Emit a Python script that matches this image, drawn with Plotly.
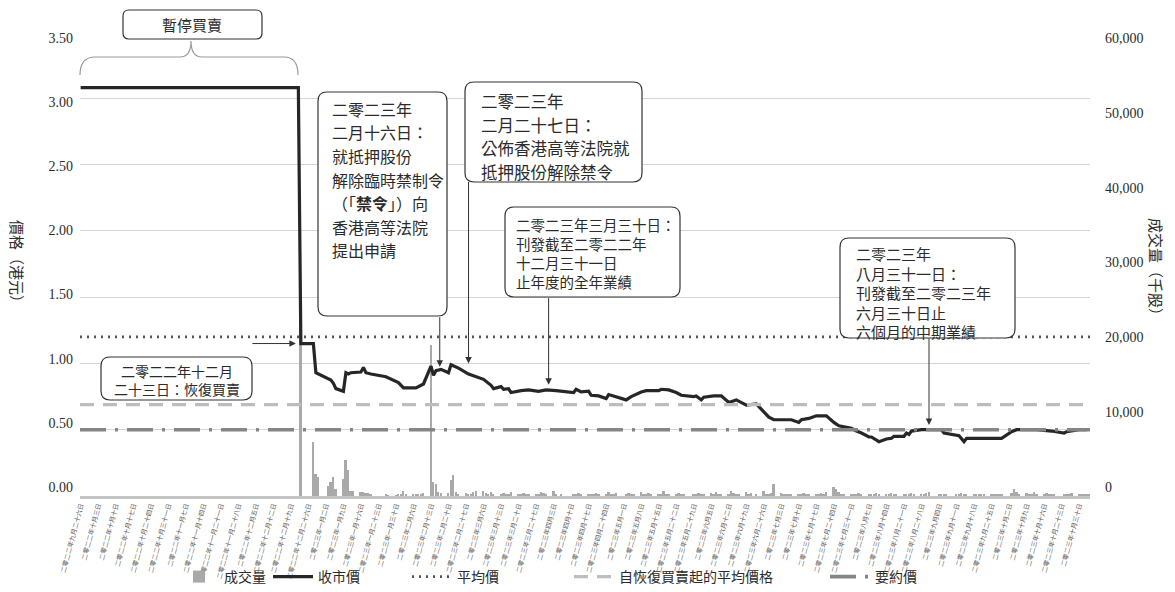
import plotly.graph_objects as go
import pandas as pd

# ---------------- data ----------------
avg_price = 1.20            # 平均價
avg_since_resume = 0.69     # 自恢復買賣起的平均價格
offer_price = 0.50          # 要約價

price_dates = [
    "2022-09-26", "2022-12-22", "2022-12-23", "2022-12-28", "2022-12-29", "2023-01-04", "2023-01-05",
    "2023-01-06", "2023-01-09", "2023-01-10", "2023-01-11", "2023-01-12", "2023-01-16", "2023-01-17",
    "2023-01-18", "2023-01-20", "2023-01-26", "2023-01-31", "2023-02-02", "2023-02-07", "2023-02-10",
    "2023-02-13", "2023-02-14", "2023-02-15", "2023-02-17", "2023-02-20", "2023-02-21", "2023-02-24",
    "2023-02-28", "2023-03-03", "2023-03-06", "2023-03-09", "2023-03-10", "2023-03-13", "2023-03-14",
    "2023-03-16", "2023-03-17", "2023-03-21", "2023-03-24", "2023-03-28", "2023-03-31", "2023-04-04",
    "2023-04-11", "2023-04-12", "2023-04-14", "2023-04-17", "2023-04-18", "2023-04-21", "2023-04-24",
    "2023-04-25", "2023-04-28", "2023-05-02", "2023-05-04", "2023-05-08", "2023-05-10", "2023-05-15",
    "2023-05-16", "2023-05-19", "2023-05-22", "2023-05-24", "2023-05-29", "2023-05-30", "2023-06-01",
    "2023-06-02", "2023-06-06", "2023-06-09", "2023-06-12", "2023-06-13", "2023-06-15", "2023-06-19",
    "2023-06-23", "2023-06-26", "2023-06-28", "2023-06-30", "2023-07-07", "2023-07-10", "2023-07-11",
    "2023-07-14", "2023-07-17", "2023-07-21", "2023-07-24", "2023-07-26", "2023-07-31", "2023-08-02",
    "2023-08-04", "2023-08-07", "2023-08-08", "2023-08-11", "2023-08-14", "2023-08-16", "2023-08-17",
    "2023-08-21", "2023-08-22", "2023-08-23", "2023-08-24", "2023-08-28", "2023-08-31", "2023-09-05",
    "2023-09-06", "2023-09-11", "2023-09-12", "2023-09-14", "2023-09-15", "2023-09-29", "2023-10-03",
    "2023-10-05", "2023-10-13", "2023-10-19", "2023-10-24", "2023-10-25", "2023-10-30", "2023-11-02",
]
price_values = [
    3.08, 3.08, 1.15, 1.15, 0.93, 0.875, 0.85,
    0.81, 0.79, 0.93, 0.92, 0.93, 0.935, 0.97,
    0.93, 0.92, 0.90, 0.855, 0.815, 0.815, 0.845,
    0.98, 0.91, 0.945, 0.955, 0.93, 0.99, 0.965,
    0.92, 0.90, 0.88, 0.835, 0.81, 0.825, 0.805,
    0.81, 0.78, 0.795, 0.80, 0.79, 0.80, 0.795,
    0.78, 0.805, 0.785, 0.79, 0.76, 0.755, 0.735,
    0.765, 0.75, 0.725, 0.75, 0.785, 0.795, 0.795,
    0.805, 0.80, 0.78, 0.76, 0.75, 0.755, 0.725,
    0.745, 0.755, 0.755, 0.705, 0.71, 0.725, 0.685,
    0.695, 0.635, 0.595, 0.575, 0.575, 0.555, 0.575,
    0.585, 0.605, 0.605, 0.555, 0.53, 0.51, 0.49,
    0.475, 0.445, 0.445, 0.41, 0.43, 0.435, 0.45,
    0.45, 0.475, 0.465, 0.49, 0.50, 0.50, 0.50,
    0.475, 0.46, 0.455, 0.41, 0.435, 0.435, 0.485,
    0.50, 0.50, 0.49, 0.475, 0.485, 0.50, 0.50,
]
assert len(price_dates) == len(price_values)

# daily volume (thousand shares), one value per trading day of each month
hk_holidays = ["2022-12-26", "2022-12-27", "2023-01-02", "2023-01-23", "2023-01-24", "2023-01-25",
               "2023-04-05", "2023-04-07", "2023-04-10", "2023-05-01", "2023-05-26", "2023-06-22",
               "2023-09-01", "2023-09-08", "2023-10-02", "2023-10-23"]
vol_2022_12 = [23.0, 7.0, 2.9, 2.4]
vol_2023_01 = [1.3, 1.85, 2.4, 0.9, 2.2, 4.65, 3.3, 0.7, 0.7, 0.5, 0.55, 0.45, 0.4, 0.3, 0.15, 0.1, 0.1, 0.2]
vol_2023_02 = [0.3, 0.7, 0.2, 0.15, 0.2, 0.3, 0.25, 0.4, 19.5, 1.85, 1.55, 0.5, 0.4, 0.45, 2.1, 2.7, 0.5, 0.3, 0.4, 0.3]
vol_2023_03 = [0.3, 0.5, 0.7, 0.6, 0.4, 0.3, 0.5, 0.2, 0.3, 0.4, 0.2, 0.3, 0.5, 0.2, 0.3, 0.4, 0.2, 0.3, 0.2, 0.3, 0.5, 0.4, 0.3]
vol_2023_04 = [0.7, 0.3, 0.2, 0.2, 0.3, 0.4, 0.2, 0.3, 0.2, 0.3, 0.4, 0.2, 0.3, 0.5, 0.3, 0.2, 0.4]
vol_2023_05 = [0.3, 0.4, 0.2, 0.3, 0.5, 0.3, 0.2, 0.4, 0.3, 0.2, 0.3, 0.6, 0.3, 0.2, 0.3, 0.4, 0.2, 0.3, 0.2, 0.3, 0.4]
vol_2023_06 = [0.3, 0.2, 0.4, 0.3, 0.5, 0.2, 0.3, 0.3, 0.6, 0.4, 0.3, 0.2, 0.5, 0.3, 0.4, 0.3, 0.7, 0.3, 0.2, 0.4, 1.5]
vol_2023_07 = [0.4, 0.3, 0.2, 0.3, 0.2, 0.3, 0.2, 0.4, 0.3, 0.2, 0.3, 0.2, 0.4, 0.3, 0.5, 1.1, 0.9, 0.5, 0.3, 0.2, 0.3]
vol_2023_08 = [0.2, 0.3, 0.4, 0.2, 0.3, 0.2, 0.3, 0.4, 0.2, 0.3, 0.2, 0.4, 0.3, 0.2, 0.2, 0.3, 0.2, 0.4, 0.3, 0.2, 0.3, 0.4, 0.5]
vol_2023_09 = [0.3, 0.2, 0.3, 0.2, 0.3, 0.2, 0.4, 0.3, 0.2, 0.2, 0.3, 0.2, 0.3, 0.2, 0.3, 0.2, 0.3, 0.2, 0.3]
vol_2023_10 = [0.4, 0.9, 0.5, 0.3, 0.4, 0.3, 0.2, 0.5, 0.3, 0.3, 0.4, 0.2, 0.3, 0.2, 0.3, 0.2, 0.3, 0.4, 0.2, 0.3]
vol_2023_11 = [0.3, 0.2, 0.3]
vol_months = [("2022-12-23", "2022-12-31", vol_2022_12), ("2023-01-01", "2023-01-31", vol_2023_01),
              ("2023-02-01", "2023-02-28", vol_2023_02), ("2023-03-01", "2023-03-31", vol_2023_03),
              ("2023-04-01", "2023-04-30", vol_2023_04), ("2023-05-01", "2023-05-31", vol_2023_05),
              ("2023-06-01", "2023-06-30", vol_2023_06), ("2023-07-01", "2023-07-31", vol_2023_07),
              ("2023-08-01", "2023-08-31", vol_2023_08), ("2023-09-01", "2023-09-30", vol_2023_09),
              ("2023-10-01", "2023-10-31", vol_2023_10), ("2023-11-01", "2023-11-03", vol_2023_11)]

tick_dates = [
    "2022-09-26", "2022-10-03", "2022-10-10", "2022-10-17", "2022-10-24", "2022-10-31", "2022-11-07",
    "2022-11-14", "2022-11-21", "2022-11-28", "2022-12-05", "2022-12-12", "2022-12-19", "2022-12-26",
    "2023-01-02", "2023-01-09", "2023-01-16", "2023-01-23", "2023-01-30", "2023-02-06", "2023-02-13",
    "2023-02-20", "2023-02-27", "2023-03-06", "2023-03-13", "2023-03-20", "2023-03-27", "2023-04-03",
    "2023-04-10", "2023-04-17", "2023-04-24", "2023-05-01", "2023-05-08", "2023-05-15", "2023-05-22",
    "2023-05-29", "2023-06-05", "2023-06-12", "2023-06-19", "2023-06-26", "2023-07-03", "2023-07-10",
    "2023-07-17", "2023-07-24", "2023-07-31", "2023-08-07", "2023-08-14", "2023-08-21", "2023-08-28",
    "2023-09-04", "2023-09-11", "2023-09-18", "2023-09-25", "2023-10-02", "2023-10-09", "2023-10-16",
    "2023-10-23", "2023-10-30",
]
price_ticks = [0.0, 0.5, 1.0, 1.5, 2.0, 2.5, 3.0, 3.5]
volume_ticks = [0, 10000, 20000, 30000, 40000, 50000, 60000]

x_start, x_end = "2022-09-25 18:00", "2023-11-03 08:00"

# ---------------- helpers ----------------
CN = "零一二三四五六七八九"


def cn_int(n):
    if n < 10:
        return CN[n]
    if n == 10:
        return "十"
    if n < 20:
        return "十" + CN[n - 10]
    return CN[n // 10] + "十" + (CN[n % 10] if n % 10 else "")


def cn_date(s):
    d = pd.Timestamp(s)
    return "".join(CN[int(c)] for c in str(d.year)) + "年" + cn_int(d.month) + "月" + cn_int(d.day) + "日"


tick_text = [cn_date(s) for s in tick_dates]

hol = set(pd.to_datetime(hk_holidays))
vol_x, vol_y = [], []
for a, b, vals in vol_months:
    days = [d for d in pd.bdate_range(a, b) if d not in hol]
    for d, v in zip(days, vals):
        vol_x.append(d)
        vol_y.append(v * 1000)

W, H = 1175, 592
ML, MR, MT, MB = 80, 85, 32, 96
PW, PH = W - ML - MR, H - MT - MB


def px(x):
    return (x - ML) / PW


def py(y):
    return (H - MB - y) / PH


# the printed tick labels sit on a slightly compressed scale (top label at y=38, bottom at y=487)
lab_top, lab_bot = 38, 487


def label_range(top_val):
    per_px = top_val / (lab_bot - lab_top)
    lo = -(H - MB - lab_bot) * per_px
    hi = top_val + (lab_top - MT) * per_px
    return [lo, hi]


def rrect(x0, y0, x1, y1, r=9):
    pts = [("M", x0 + r, y0), ("L", x1 - r, y0), ("Q", x1, y0, x1, y0 + r), ("L", x1, y1 - r),
           ("Q", x1, y1, x1 - r, y1), ("L", x0 + r, y1), ("Q", x0, y1, x0, y1 - r), ("L", x0, y0 + r),
           ("Q", x0, y0, x0 + r, y0)]
    out = []
    for p in pts:
        coords = p[1:]
        s = " ".join(f"{px(coords[i]):.5f},{py(coords[i + 1]):.5f}" for i in range(0, len(coords), 2))
        out.append(p[0] + " " + s)
    return " ".join(out) + " Z"


CJK = "Noto Sans CJK TC"
SERIF = "Liberation Serif"
TXT = "#2b2b2b"

fig = go.Figure()

fig.add_trace(go.Bar(x=vol_x, y=vol_y, name="成交量", marker=dict(color="#a9a9a9", line=dict(width=0)),
                     width=0.75 * 86400000, yaxis="y", legend="legend"))
fig.add_trace(go.Scatter(x=pd.to_datetime(price_dates), y=price_values, name="收市價", mode="lines",
                         line=dict(color="#262626", width=3.2), yaxis="y2", legend="legend2"))
fig.add_trace(go.Scatter(x=[x_start, x_end], y=[avg_price, avg_price], name="平均價", mode="lines",
                         line=dict(color="#555555", width=2.6, dash="2px,5px"), yaxis="y2", legend="legend3"))
fig.add_trace(go.Scatter(x=[x_start, x_end], y=[avg_since_resume, avg_since_resume],
                         name="自恢復買賣起的平均價格", mode="lines",
                         line=dict(color="#bdbdbd", width=3.2, dash="14px,9px"), yaxis="y2", legend="legend4"))
fig.add_trace(go.Scatter(x=[x_start, x_end], y=[offer_price, offer_price], name="要約價", mode="lines",
                         line=dict(color="#858585", width=3.6, dash="26px,9px,3px,9px"), yaxis="y2",
                         legend="legend5"))
# empty traces that carry the printed tick-label axes
fig.add_trace(go.Scatter(x=[], y=[], yaxis="y3", showlegend=False, hoverinfo="skip"))
fig.add_trace(go.Scatter(x=[], y=[], yaxis="y4", showlegend=False, hoverinfo="skip"))

shapes = []
shapes.append(dict(type="path", xref="paper", yref="paper", path=rrect(123, 10, 262, 39, 6),
                   line=dict(color="#333333", width=1.2), fillcolor="white", layer="above"))
brace = (f"M {px(80)},{py(75)} Q {px(80)},{py(57)} {px(95)},{py(57)} L {px(180)},{py(57)} "
         f"Q {px(191)},{py(57)} {px(191)},{py(41)} Q {px(191)},{py(57)} {px(202)},{py(57)} "
         f"L {px(284)},{py(57)} Q {px(298)},{py(57)} {px(298)},{py(75)}")
shapes.append(dict(type="path", xref="paper", yref="paper", path=brace,
                   line=dict(color="#9a9a9a", width=1.2), layer="above"))
boxes = [(101, 357, 252, 400), (318, 92, 447, 316), (465, 82, 642, 182), (505, 207, 680, 297),
         (840, 238, 1015, 338)]
for b in boxes:
    shapes.append(dict(type="path", xref="paper", yref="paper", path=rrect(*b, 9),
                       line=dict(color="#333333", width=1.2), fillcolor="white", layer="above"))
fig.update_layout(shapes=shapes)


def add_lines(lines, x, y0, dy, size, anchor="left"):
    for i, t in enumerate(lines):
        fig.add_annotation(xref="paper", yref="paper", x=px(x), y=py(y0 + i * dy), text=t,
                           showarrow=False, xanchor=anchor, yanchor="middle",
                           font=dict(family=CJK, size=size, color=TXT))


def add_block(lines, x, y_mid, size, anchor="left"):
    fig.add_annotation(xref="paper", yref="paper", x=px(x), y=py(y_mid), text="<br>".join(lines),
                       showarrow=False, xanchor=anchor, yanchor="middle", align=anchor,
                       font=dict(family=CJK, size=size, color=TXT))


add_lines(["暫停買賣"], 192, 25, 0, 15, "center")
add_block(["二零二二年十二月", "二十三日：恢復買賣"], 177, 380, 14, "center")
add_lines(["二零二三年", "二月十六日：", "就抵押股份", "解除臨時禁制令", "（「<b>禁令</b>」）向",
           "香港高等法院", "提出申請"], 330, 109, 23.5, 16)
add_lines(["二零二三年", "二月二十七日：", "公佈香港高等法院就", "抵押股份解除禁令"], 479, 101, 23.5, 16.5)
add_block(["二零二三年三月三十日：", "刊發截至二零二二年", "十二月三十一日", "止年度的全年業績"],
          514, 252.5, 14.5)
add_block(["二零二三年", "八月三十一日：", "刊發截至二零二三年", "六月三十日止", "六個月的中期業績"],
          854, 292, 15)

arrow_style = dict(showarrow=True, arrowhead=2, arrowsize=1.3, arrowwidth=1, arrowcolor="#333333",
                   text="", xref="x", yref="y2")
fig.add_annotation(x="2022-12-21", y=1.15, ax=-45, ay=0, **arrow_style)
fig.add_annotation(x="2023-02-16 12:00", y=0.975, ax=0, ay=-51, **arrow_style)
fig.add_annotation(x="2023-02-28", y=1.0, ax=0, ay=-183, **arrow_style)
fig.add_annotation(x="2023-04-01", y=0.84, ax=0, ay=-88, **arrow_style)
fig.add_annotation(x="2023-08-31", y=0.535, ax=0, ay=-88, **arrow_style)

fig.add_annotation(xref="paper", yref="paper", x=px(18), y=py(265), text="價格（港元）", textangle=90,
                   xanchor="center", yanchor="middle", showarrow=False,
                   font=dict(family=CJK, size=15, color=TXT))
fig.add_annotation(xref="paper", yref="paper", x=px(1157), y=py(270), text="成交量（千股）", textangle=90,
                   xanchor="center", yanchor="middle", showarrow=False,
                   font=dict(family=CJK, size=15, color=TXT))

leg_common = dict(orientation="h", xanchor="left", y=py(577), yanchor="middle",
                  font=dict(family=CJK, size=14, color=TXT), itemwidth=40, bgcolor="rgba(0,0,0,0)")

fig.update_layout(
    width=W, height=H, margin=dict(l=ML, r=MR, t=MT, b=MB, autoexpand=False),
    paper_bgcolor="white", plot_bgcolor="white",
    bargap=0, showlegend=True,
    xaxis=dict(type="date", range=[x_start, x_end], tickvals=pd.to_datetime(tick_dates), ticktext=tick_text,
               tickangle=-75, tickfont=dict(family=CJK, size=6.5, color="#555555"), showgrid=False,
               showline=True, linecolor="#c4c4c4", linewidth=2.5, ticks="", zeroline=False),
    yaxis=dict(range=[0, 60000], side="right", showgrid=False, zeroline=False, showticklabels=False,
               ticks=""),
    yaxis2=dict(range=[0, 3.5], tickvals=price_ticks, side="left", overlaying="y", showgrid=True,
                gridcolor="#d4d4d4", gridwidth=1, zeroline=False, ticks="", showticklabels=False),
    yaxis3=dict(range=label_range(3.5), tickvals=price_ticks, tickformat=".2f", side="left",
                overlaying="y", showgrid=False, zeroline=False, ticks="",
                tickfont=dict(family=SERIF, size=14, color=TXT), ticklabelstandoff=6),
    yaxis4=dict(range=label_range(60000), tickvals=volume_ticks, tickformat=",d", side="right",
                overlaying="y", showgrid=False, zeroline=False, ticks="",
                tickfont=dict(family=SERIF, size=14, color=TXT), ticklabelstandoff=14),
    legend=dict(x=px(174), **leg_common),
    legend2=dict(x=px(268), **leg_common),
    legend3=dict(x=px(407), **leg_common),
    legend4=dict(x=px(569), **leg_common),
    legend5=dict(x=px(825), **leg_common),
)

fig.write_html("out.html")
